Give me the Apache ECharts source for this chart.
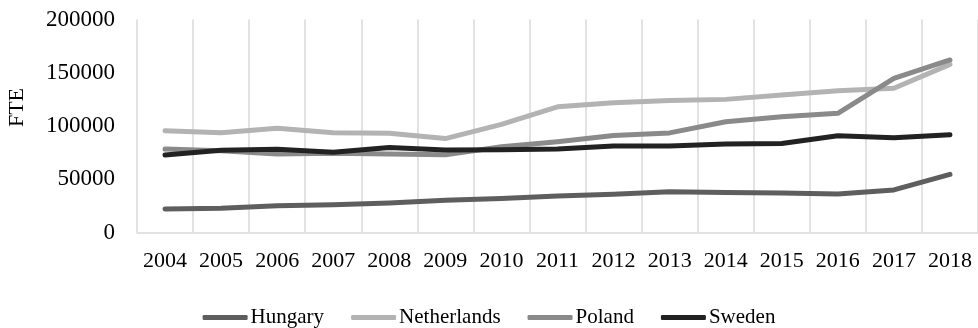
<!DOCTYPE html>
<html>
<head>
<meta charset="utf-8">
<script src="https://cdn.jsdelivr.net/npm/echarts@6/dist/echarts.min.js"></script>
<style>
  html, body { margin: 0; padding: 0; background: #fff; }
  #main { width: 978px; height: 328px; }
</style>
</head>
<body>
<div id="main"></div>
<script>
var years = ['2004', '2005', '2006', '2007', '2008', '2009', '2010', '2011', '2012', '2013', '2014', '2015', '2016', '2017', '2018'];
var hungary = [22100, 22800, 25200, 26000, 27800, 30200, 32000, 34200, 35900, 38200, 37500, 37000, 36200, 40000, 54600];
var netherlands = [95600, 93700, 97800, 93700, 93100, 88200, 101500, 118000, 121900, 124000, 125000, 129100, 133100, 135400, 157900];
var poland = [78400, 76800, 73600, 74400, 73700, 72900, 80600, 85300, 91000, 93500, 104000, 108700, 111900, 144800, 162000];
var sweden = [72800, 77200, 78100, 75300, 79800, 77500, 77600, 78400, 81200, 81300, 83100, 83600, 90900, 89000, 91800];

var chartDom = document.getElementById('main');
var myChart = echarts.init(chartDom);
var option;

var font = 'Liberation Serif';

function line(name, data, color) {
    return {
        name: name,
        type: 'line',
        data: data,
        showSymbol: false,
        symbol: 'none',
        color: color,
        lineStyle: { width: 5, color: color, cap: 'round', join: 'round' }
    };
}

option = {
    animation: false,
    textStyle: { fontFamily: font },
    grid: { left: 137, right: 0, top: 19.5, bottom: 95.5 },
    graphic: [
        {
            type: 'text',
            x: 17,
            y: 107.5,
            rotation: Math.PI / 2,
            style: {
                text: 'FTE',
                fontFamily: font,
                fontSize: 22,
                fill: '#000',
                align: 'center',
                verticalAlign: 'middle'
            }
        }
    ],
    legend: {
        top: 302,
        left: 'center',
        icon: 'roundRect',
        itemWidth: 45,
        itemHeight: 5,
        itemGap: 27,
        textStyle: { fontFamily: font, fontSize: 21, color: '#000', padding: [0, 0, 0, -2] },
        data: ['Hungary', 'Netherlands', 'Poland', 'Sweden']
    },
    xAxis: {
        type: 'category',
        data: years,
        boundaryGap: true,
        axisLine: { lineStyle: { color: '#d9d9d9', width: 1.5 } },
        axisTick: { show: false },
        axisLabel: { color: '#000', fontSize: 22, fontFamily: font, margin: 18, interval: 0 },
        splitLine: { show: true, interval: 0, lineStyle: { color: '#d9d9d9', width: 1.5 } }
    },
    yAxis: {
        type: 'value',
        min: 0,
        max: 200000,
        interval: 50000,
        axisLine: { show: false },
        axisTick: { show: false },
        splitLine: { show: false },
        axisLabel: {
            color: '#000',
            fontSize: 23,
            fontFamily: font,
            margin: 22,
            formatter: function (v) { return String(v); }
        }
    },
    series: [
        line('Hungary', hungary, '#5e5e5e'),
        line('Netherlands', netherlands, '#b3b3b3'),
        line('Poland', poland, '#8a8a8a'),
        line('Sweden', sweden, '#222222')
    ]
};

option && myChart.setOption(option);
</script>
</body>
</html>
